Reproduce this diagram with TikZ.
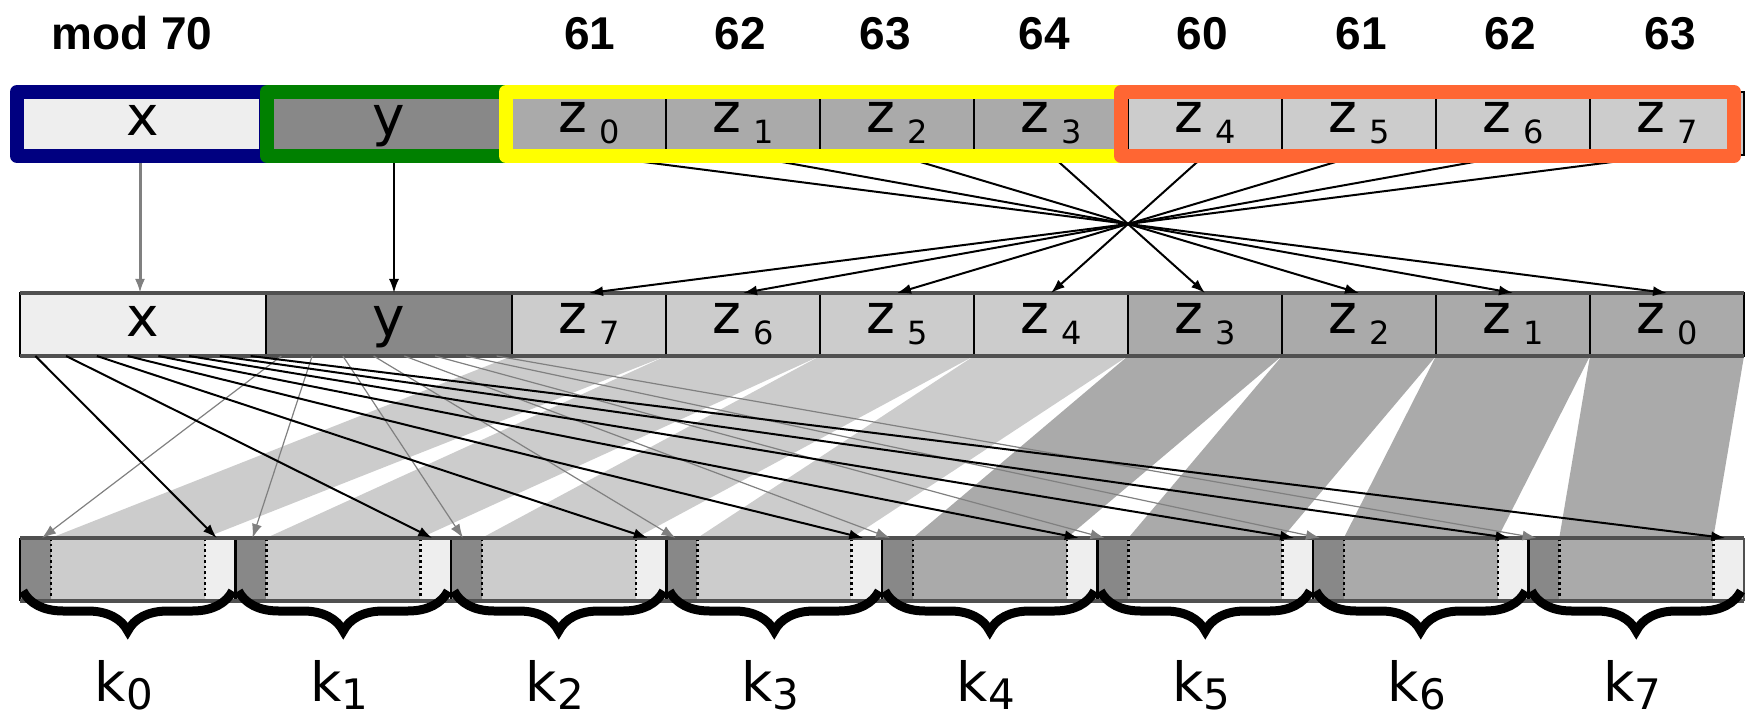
\documentclass[tikz,border=0pt]{standalone}
\usepackage{fontspec}
\setmainfont{DejaVu Sans}
\newfontfamily\lblfont{Liberation Sans}
\usetikzlibrary{calc,decorations.pathreplacing,arrows.meta}
\definecolor{cX}{HTML}{EEEEEE}
\definecolor{cY}{HTML}{888888}
\definecolor{cD}{HTML}{AAAAAA}
\definecolor{cL}{HTML}{CCCCCC}
\definecolor{fBlue}{HTML}{000080}
\definecolor{fGreen}{HTML}{008000}
\definecolor{fYellow}{HTML}{FFFF00}
\definecolor{fOrange}{HTML}{FF6633}
\definecolor{rim}{HTML}{505050}
\definecolor{garrow}{HTML}{808080}
\newcommand{\zsub}[2]{#1\hspace{12pt}\raisebox{-11pt}{\fontsize{32}{32}\selectfont #2}}
\newcommand{\ksub}[1]{k\raisebox{-8pt}{\fontsize{42}{42}\selectfont #1}}
\pgfdeclarelayer{bg}
\pgfsetlayers{bg,main}
\begin{document}
\begin{tikzpicture}[x=1pt,y=-1pt,
  cell/.style={draw=black, line width=1.5pt, minimum height=63pt, inner sep=0pt, outer sep=0pt, anchor=north west, font=\fontsize{55}{55}\selectfont},
  xycell/.style={cell, minimum width=246pt, text height=43pt, text depth=18pt},
  zcell/.style={cell, minimum width=154pt, text height=40pt, text depth=21pt},
  part/.style={minimum height=63pt, inner sep=0pt, outer sep=0pt, anchor=north west},
  tip/.style={-{Latex[length=14pt,width=10pt]}},
  darr/.style={tip, line width=2pt, black},
  garr/.style={tip, line width=1.2pt, garrow},
  lbl/.style={font=\lblfont\bfseries\fontsize{46}{46}\selectfont, anchor=base, inner sep=0pt},
  klbl/.style={font=\fontsize{54}{54}\selectfont, anchor=base, inner sep=0pt},
  kbrace/.style={decorate, decoration={brace, mirror, amplitude=40pt}, line width=9pt},
  grp/.style={line width=14pt, line join=round},
  dotsep/.style={line width=2.5pt, dash pattern=on 2.5pt off 3pt}
]
\useasboundingbox (0,0) rectangle (1754,719);

% ---------- top labels ----------
\node[lbl] (lmod) at (132,50) {mod 70};
\foreach \n/\xx/\t in {1/590/61,2/740/62,3/885/63,4/1044/64,5/1202/60,6/1361/61,7/1510/62,8/1670/63}
  \node[lbl] (lnum\n) at (\xx,50) {\t};

% ---------- top row ----------
\node[xycell, fill=cX] (tx) at (20,92) {x};
\node[xycell, fill=cY] (ty) at (266,92) {y};
\foreach \i/\c in {0/cD,1/cD,2/cD,3/cD,4/cL,5/cL,6/cL,7/cL}
  \node[zcell, fill=\c] (tz\i) at ({512+154*\i},92) {\zsub{z}{\i}};

% ---------- middle row ----------
\node[xycell, fill=cX] (mx) at (20,293) {x};
\node[xycell, fill=cY] (my) at (266,293) {y};
\foreach \p/\i/\c in {0/7/cL,1/6/cL,2/5/cL,3/4/cL,4/3/cD,5/2/cD,6/1/cD,7/0/cD}
  \node[zcell, fill=\c] (mz\i) at ({512+154*\p},293) {\zsub{z}{\i}};
\draw[rim, line width=3.5pt] (mx.north west) -- (mz0.north east);
\draw[rim, line width=3.5pt] (mx.south west) -- (mz0.south east);

% ---------- bottom row ----------
\foreach \j/\c in {0/cL,1/cL,2/cL,3/cL,4/cD,5/cD,6/cD,7/cD} {
  \node[part, fill=cY, minimum width=30.75pt] (kd\j) at ({20+215.5*\j},538) {};
  \node[part, fill=\c, minimum width=154pt] (km\j) at ({50.75+215.5*\j},538) {};
  \node[part, fill=cX, minimum width=30.75pt] (kl\j) at ({204.75+215.5*\j},538) {};
  \draw[dotsep] (kd\j.north east) -- (kd\j.south east);
  \draw[dotsep] (kl\j.north west) -- (kl\j.south west);
}
\foreach \j in {0,...,6}
  \draw[black, line width=2.5pt] (kl\j.north east) -- (kl\j.south east);
\draw[black, line width=2.5pt] (kd0.north west) -- (kd0.south west);
\draw[rim, line width=2pt] (kl7.north east) -- (kl7.south east);
\draw[rim, line width=3.5pt] (kd0.north west) -- (kl7.north east);
\draw[rim, line width=3.5pt] (kd0.south west) -- (kl7.south east);

% ---------- bands ----------
\begin{pgfonlayer}{bg}
\foreach \p/\i/\c in {0/7/cL,1/6/cL,2/5/cL,3/4/cL,4/3/cD,5/2/cD,6/1/cD,7/0/cD}
  \fill[\c] (mz\i.south west) -- (mz\i.south east) -- (km\p.north east) -- (km\p.north west) -- cycle;
\end{pgfonlayer}

% ---------- arrows middle -> bottom ----------
\foreach \j/\off in {0/22,1/17,2/12,3/9,4/8,5/7,6/7,7/8} {
  \pgfmathsetmacro\fr{(2*\j+1)/16}
  \draw[garr] ($(my.south west)!\fr!(my.south east)$) -- ($(kd\j.north west)+(\off,0)$);
  \draw[darr] ($(mx.south west)!\fr!(mx.south east)$) -- ($(kl\j.north west)+(12,0)$);
}

% ---------- arrows top -> middle ----------
\draw[tip, garrow, line width=3pt] ($(tx.south)+(-3,8)$) -- ($(mx.north)+(-3,0)$);
\draw[darr] ($(ty.south)+(5,8)$) -- ($(my.north)+(5,0)$);
\foreach \i in {0,...,7}
  \draw[darr] (tz\i.south) -- (mz\i.north);

% ---------- group frames ----------
\draw[grp, fBlue] ($(tx.north west)+(-3,0)$) rectangle ($(tx.south east)+(0,1)$);
\draw[grp, fGreen] ($(ty.north west)+(1,0)$) rectangle ($(ty.south east)+(-6,1)$);
\draw[grp, fYellow] ($(tz0.north west)+(-6,0)$) rectangle ($(tz3.south east)+(-7,1)$);
\draw[grp, fOrange] ($(tz4.north west)+(-7,0)$) rectangle ($(tz7.south east)+(-10,1)$);

% ---------- braces and key labels ----------
\foreach \j in {0,...,7} {
  \draw[kbrace] ($(kd\j.south west)+(3,-10)$) -- ($(kl\j.south east)+(-3,-10)$);
  \node[klbl] (klab\j) at ($(km\j.south)+(-4,100)$) {\ksub{\j}};
}
\end{tikzpicture}
\end{document}
